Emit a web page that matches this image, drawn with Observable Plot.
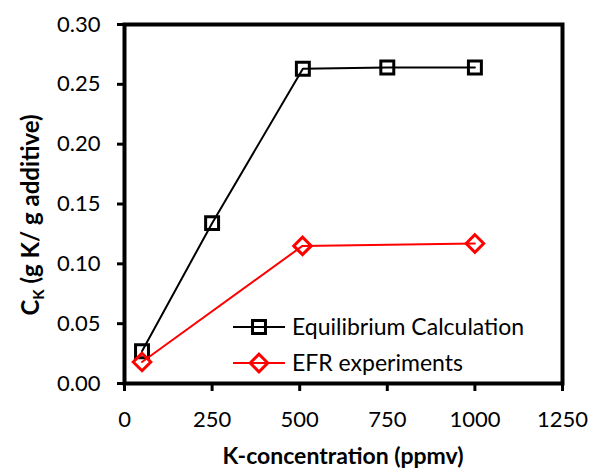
<!DOCTYPE html>
<html>
<head>
<meta charset="utf-8">
<script src="https://cdn.jsdelivr.net/npm/d3@7"></script>
<script src="https://cdn.jsdelivr.net/npm/@observablehq/plot@0.6"></script>
<style>
  html, body { margin: 0; padding: 0; background: #fff; }
  #chart svg { display: block; }
</style>
</head>
<body>
<div id="chart"></div>
<script>
const concentrations = [50, 250, 509, 750, 1000];
const equilibrium = [0.027, 0.134, 0.263, 0.264, 0.264];
const efrConcentrations = [50, 508, 1000];
const efr = [0.018, 0.115, 0.117];
const xTicks = [0, 250, 500, 750, 1000, 1250];
const yTicks = [0, 0.05, 0.10, 0.15, 0.20, 0.25, 0.30];
const seriesNames = ["Equilibrium Calculation", "EFR experiments"];
const xTitle = "K-concentration (ppmv)";

const FONT = "Lato, 'Open Sans', sans-serif";

const eqData = concentrations.map((c, i) => ({x: c, y: equilibrium[i]}));
const efrData = efrConcentrations.map((c, i) => ({x: c, y: efr[i]}));

const W = 594, H = 470;
const mL = 124, mR = 32, mT = 24, mB = 87;

const plot = Plot.plot({
  width: W,
  height: H,
  marginLeft: mL,
  marginRight: mR,
  marginTop: mT,
  marginBottom: mB,
  style: {fontFamily: FONT, fontSize: "22px", color: "#000", background: "#fff"},
  x: {domain: [0, 1250]},
  y: {domain: [0, 0.30]},
  marks: [
    Plot.line(eqData, {x: "x", y: "y", stroke: "#000", strokeWidth: 2}),
    Plot.dot(eqData, {x: "x", y: "y", symbol: "square", r: 7.3, stroke: "#000", strokeWidth: 3, fill: "none"}),
    Plot.line(efrData, {x: "x", y: "y", stroke: "#ff0000", strokeWidth: 2}),
    Plot.dot(efrData, {x: "x", y: "y", symbol: "diamond2", r: 7.9, stroke: "#ff0000", strokeWidth: 3, fill: "none"}),
    Plot.axisX({ticks: xTicks, tickSize: 8, tickPadding: 20, strokeWidth: 3, label: null, tickFormat: d => String(d), fontSize: 22}),
    Plot.axisY({ticks: yTicks, tickSize: 7, tickPadding: 17, strokeWidth: 3, label: null, tickFormat: d3.format(".2f"), fontSize: 22}),
    Plot.frame({stroke: "#000", strokeWidth: 4})
  ]
});

document.getElementById("chart").appendChild(plot);

const svg = d3.select(plot);

// X title
svg.append("text")
  .attr("x", (mL + (W - mR)) / 2)
  .attr("y", 464)
  .attr("text-anchor", "middle")
  .attr("font-weight", "bold")
  .attr("font-size", 23)
  .attr("font-family", FONT)
  .attr("fill", "#000")
  .text(xTitle);

// Y title with subscript
const yt = svg.append("text")
  .attr("transform", "translate(39,215) rotate(-90)")
  .attr("text-anchor", "middle")
  .attr("font-weight", "bold")
  .attr("font-size", 24)
  .attr("font-family", FONT)
  .attr("fill", "#000");
yt.append("tspan").text("C");
yt.append("tspan").attr("dy", 5).attr("font-size", 15).text("K");
yt.append("tspan").attr("dy", -5).text(" (g K/ g additive)");

// Legend
const legend = svg.append("g").attr("font-family", FONT).attr("font-size", 23).attr("text-anchor", "start");
const rows = [
  {name: seriesNames[0], color: "#000", sym: d3.symbolSquare, r: 7.3},
  {name: seriesNames[1], color: "#ff0000", sym: d3.symbolDiamond2, r: 7.9}
];
rows.forEach((row, i) => {
  const cy = 327 + i * 36;
  legend.append("line").attr("x1", 233).attr("x2", 285).attr("y1", cy).attr("y2", cy)
    .attr("stroke", row.color).attr("stroke-width", 2);
  legend.append("path")
    .attr("d", d3.symbol(row.sym, Math.PI * row.r * row.r)())
    .attr("transform", `translate(259,${cy})`)
    .attr("fill", "none").attr("stroke", row.color).attr("stroke-width", 3);
  legend.append("text").attr("x", 292).attr("y", cy).attr("dy", "0.36em")
    .attr("text-anchor", "start")
    .attr("fill", "#000").text(row.name);
});
</script>
</body>
</html>
